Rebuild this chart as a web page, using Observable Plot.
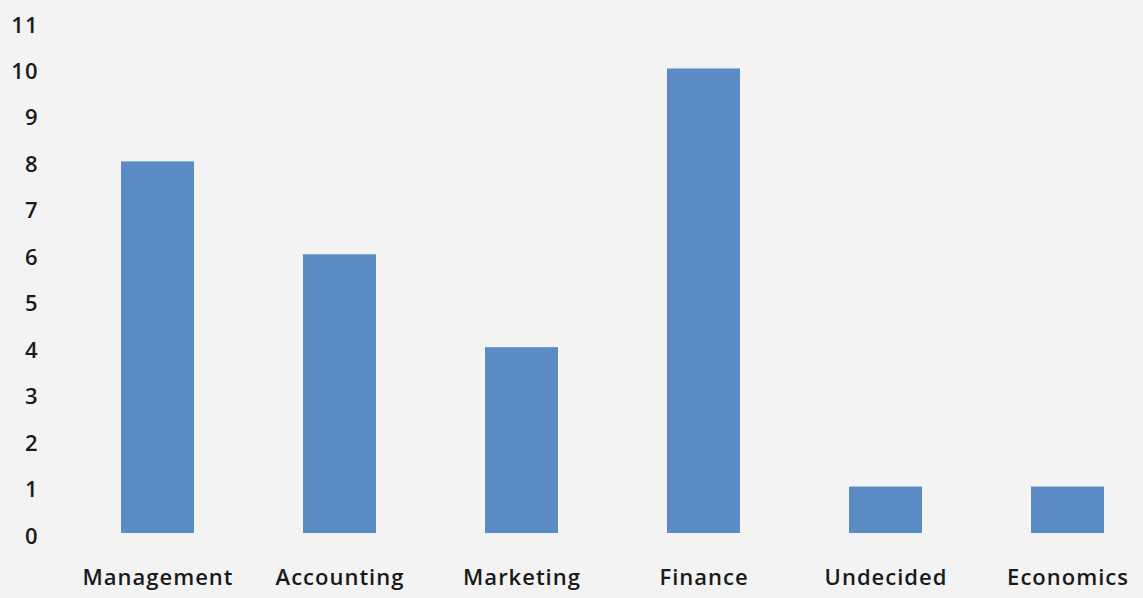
<!DOCTYPE html>
<html>
<head>
<meta charset="utf-8">
<script src="https://cdn.jsdelivr.net/npm/d3@7"></script>
<script src="https://cdn.jsdelivr.net/npm/@observablehq/plot@0.6"></script>
<style>
  html, body { margin: 0; padding: 0; background: #f3f3f3; }
  #chart svg { display: block; }
  #chart g[aria-label="x-axis tick label"] text { letter-spacing: 1px; }
  #chart g[aria-label="y-axis tick label"] text { letter-spacing: 1px; }
</style>
</head>
<body>
<div id="chart"></div>
<script>
const majors = ["Management", "Accounting", "Marketing", "Finance", "Undecided", "Economics"];
const counts = [8, 6, 4, 10, 1, 1];
const yTicks = [0, 1, 2, 3, 4, 5, 6, 7, 8, 9, 10, 11];

const data = majors.map((m, i) => ({major: m, count: counts[i]}));

const chart = Plot.plot({
  width: 1143,
  height: 598,
  marginLeft: 82,
  marginRight: 0,
  marginTop: 22,
  marginBottom: 65,
  style: {background: "#f3f3f3", fontFamily: "'Open Sans', Lato, sans-serif", color: "#1a1a1a"},
  x: {domain: majors, paddingInner: 0.6, paddingOuter: 0.2, label: null},
  y: {domain: [0, 11], label: null},
  marks: [
    Plot.barY(data, {x: "major", y: "count", fill: "#5b8cc5"}),
    Plot.axisX({tickSize: 0, tickPadding: 36, fontSize: 22, fontWeight: 600, fill: "#1a1a1a"}),
    Plot.axisY({ticks: yTicks, tickSize: 0, tickPadding: 44, fontSize: 22, fontWeight: 600, dy: 3, fill: "#1a1a1a", tickFormat: d => String(d)})
  ]
});
document.getElementById("chart").appendChild(chart);
</script>
</body>
</html>
